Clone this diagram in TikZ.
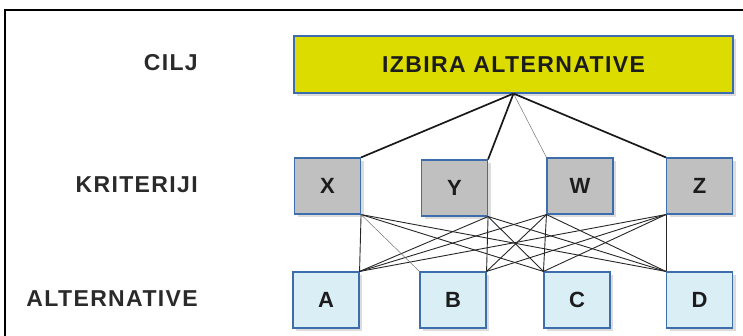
\documentclass[tikz,border=0pt]{standalone}
\usepackage{fontspec}
\setmainfont{Liberation Sans}[LetterSpace=6]
\usetikzlibrary{shadows}
\definecolor{goalfill}{HTML}{DCDC00}
\definecolor{critfill}{HTML}{C0C0C0}
\definecolor{altfill}{HTML}{DAEEF5}
\definecolor{boxedge}{HTML}{3E6DAE}
\definecolor{labeltext}{HTML}{1C1C1C}
\definecolor{sidetext}{HTML}{2A2A2A}
\tikzset{
  box/.style={draw=boxedge, line width=1.1pt, inner sep=0pt,
    text=labeltext, font=\fontsize{22}{25}\selectfont\bfseries,
    drop shadow={opacity=0.28, shadow xshift=3pt, shadow yshift=-3pt}},
  goalbox/.style={box, fill=goalfill, minimum width=439pt, minimum height=57pt,
    font=\fontsize{23}{26}\selectfont\bfseries},
  critbox/.style={box, fill=critfill, minimum width=66pt, minimum height=56pt},
  altbox/.style={box, fill=altfill, minimum width=66pt, minimum height=56pt},
  levellabel/.style={anchor=east, inner sep=0pt, text=sidetext,
    font=\fontsize{23}{26}\selectfont\bfseries},
  mainlink/.style={line width=1.7pt, draw=black!90},
  faintlink/.style={line width=0.5pt, draw=black!55},
  crosslink/.style={line width=0.9pt, draw=black!85},
  frameline/.style={line width=1.8pt, draw=black}
}
\begin{document}
\begin{tikzpicture}[x=1pt, y=-1pt]
  \useasboundingbox (0,0) rectangle (743,336);

  % outer frame (top and left edges)
  \coordinate (fl) at (5,336);
  \coordinate (ftl) at (5,10);
  \coordinate (ftr) at (743,10);
  \draw[frameline] (fl) -- (ftl) -- (ftr);

  % level labels
  \node[levellabel] (lcilj) at (198,63) {CILJ};
  \node[levellabel] (lkrit) at (198,185) {KRITERIJI};
  \node[levellabel] (lalt) at (198,299) {ALTERNATIVE};

  % goal
  \node[goalbox] (goal) at (513.5,64.5) {IZBIRA ALTERNATIVE};

  % criteria
  \node[critbox] (X) at (327.5,186) {X};
  \node[critbox] (Y) at (454.5,188) {Y};
  \node[critbox] (W) at (580,186) {W};
  \node[critbox] (Z) at (699.5,186) {Z};

  % alternatives
  \node[altbox] (A) at (326,300) {A};
  \node[altbox] (B) at (453,300) {B};
  \node[altbox] (C) at (577,300) {C};
  \node[altbox] (D) at (699.5,300) {D};

  % goal to criteria
  \draw[mainlink] (goal.south) -- (X.north east);
  \draw[mainlink] (goal.south) -- (Y.north east);
  \draw[faintlink] (goal.south) -- (W.north west);
  \draw[mainlink] (goal.south) -- (Z.north west);

  % criteria to alternatives
  \foreach \c/\ca in {X/south east, Y/south east, W/south west, Z/south west}{
    \foreach \a/\aa in {A/north east, C/north west, D/north west}{
      \draw[crosslink] (\c.\ca) -- (\a.\aa);
    }
  }
  \draw[faintlink] (X.south east) -- (B.north west);
  \foreach \c/\ca in {Y/south east, W/south west, Z/south west}{
    \draw[crosslink] (\c.\ca) -- (B.north east);
  }
\end{tikzpicture}
\end{document}
